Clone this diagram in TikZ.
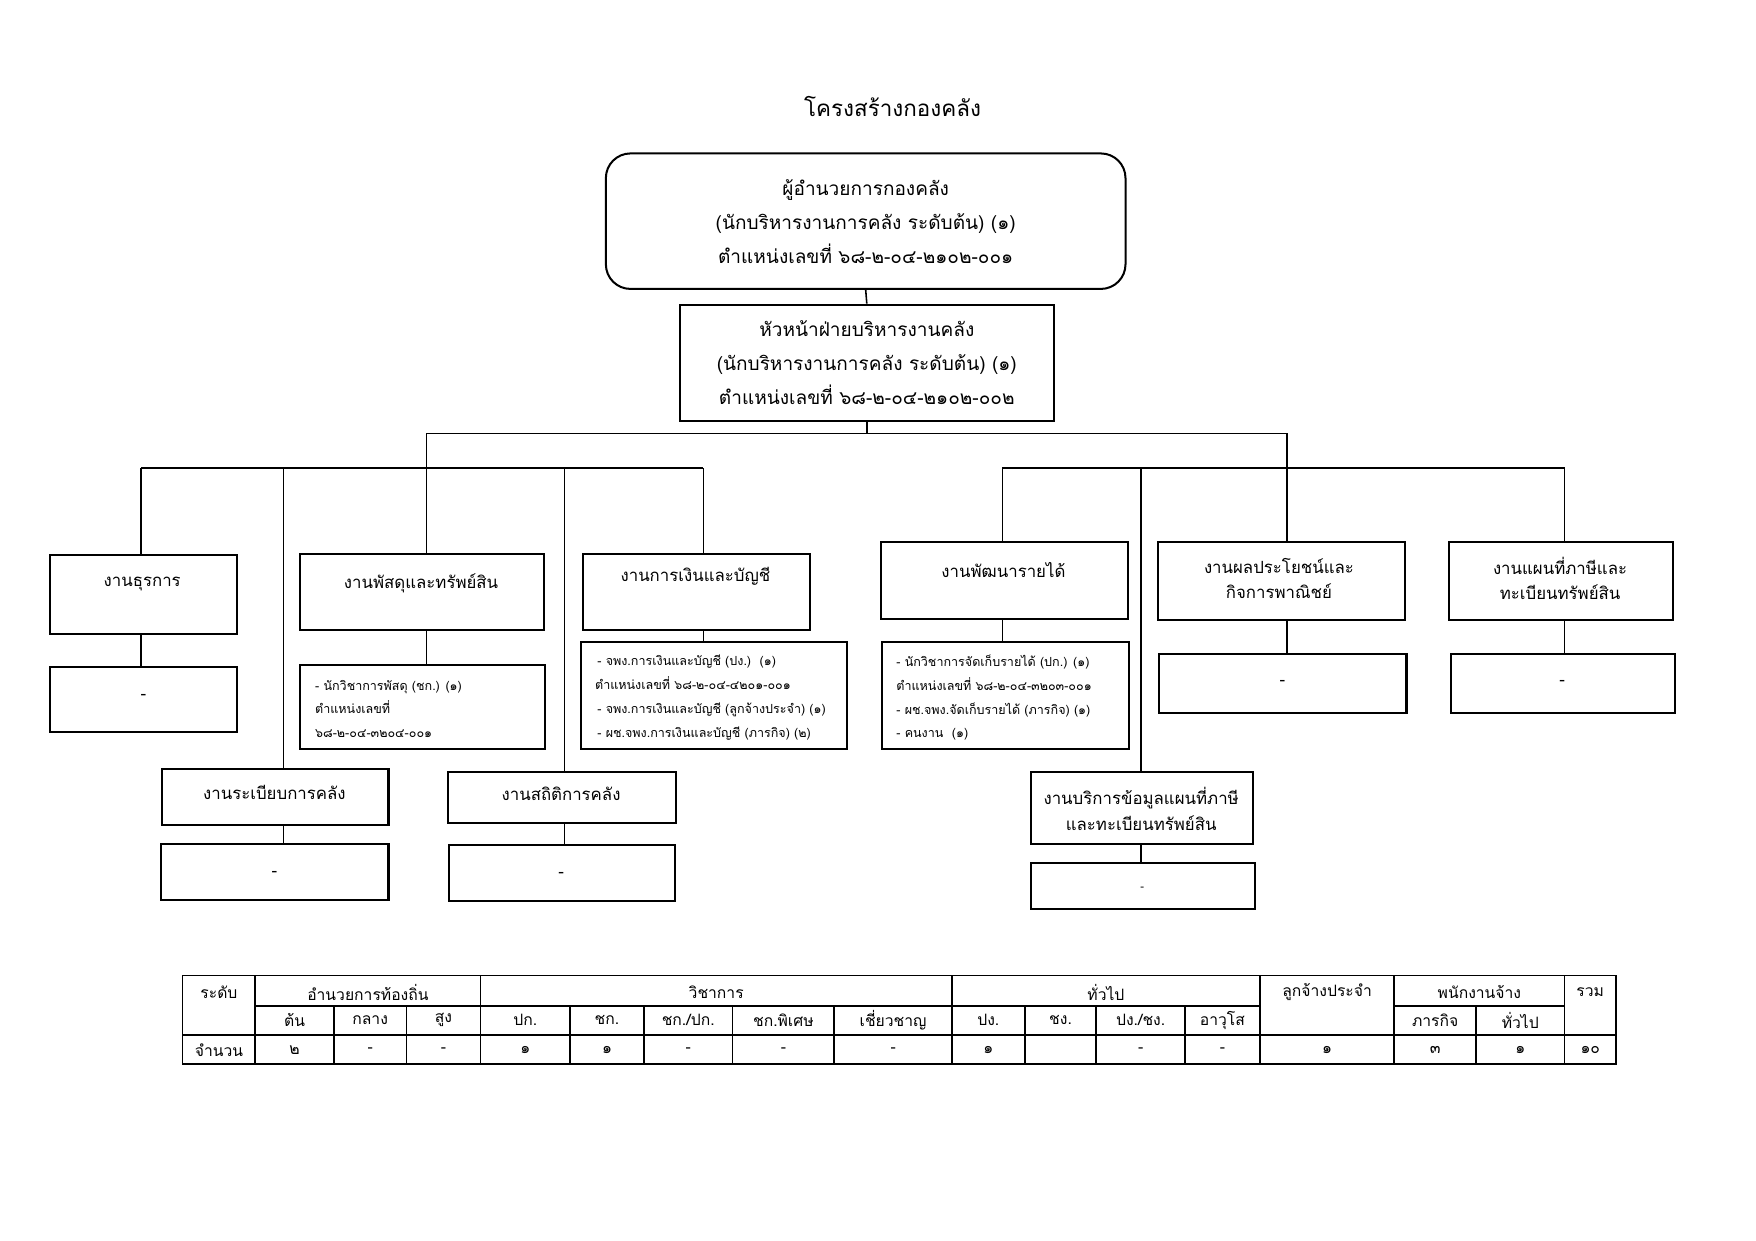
\documentclass[tikz,border=0pt]{standalone}
\usepackage{fontspec}
\setmainfont[Script=Thai]{Loma}
\usetikzlibrary{calc}
\newcommand\bx[6][]{\node[box,#1,anchor=north west,minimum width={(#5-#3)*0.5pt},minimum height={(#6-#4)*0.5pt}] (#2) at (#3,#4) {};}
\begin{document}
\begin{tikzpicture}[x=0.5pt,y=-0.5pt,
  box/.style={draw,line width=0.9pt,inner sep=0pt},
  conn/.style={line width=0.7pt},
  lbl/.style={inner sep=0pt,align=center,font=\fontsize{7.5}{11.5}\selectfont},
  big/.style={inner sep=0pt,align=center,font=\fontsize{8.5}{15.2}\selectfont},
  small/.style={inner sep=0pt,align=left,anchor=west,font=\fontsize{5.6}{10.6}\selectfont},
  tb/.style={inner sep=0pt,font=\fontsize{7}{9}\selectfont}]
\useasboundingbox (0,0) rectangle (1568,1108);
\fill[white] (0,0) rectangle (1568,1108);

\node[inner sep=0pt,font=\fontsize{10}{12}\selectfont] (title) at (797,95) {โครงสร้างกองคลัง};

% top boxes
\node[box,big,rounded corners=11pt,minimum width={(1005-541)*0.5pt},minimum height={(258-137)*0.5pt}] (b1) at (773,197.5)
  {ผู้อำนวยการกองคลัง\\(นักบริหารงานการคลัง ระดับต้น) (๑)\\ตำแหน่งเลขที่ ๖๘-๒-๐๔-๒๑๐๒-๐๐๑};
\node[box,big,minimum width={(941-607)*0.5pt},minimum height={(374-270)*0.5pt}] (b2) at (774,324)
  {หัวหน้าฝ่ายบริหารงานคลัง\\(นักบริหารงานการคลัง ระดับต้น) (๑)\\ตำแหน่งเลขที่ ๖๘-๒-๐๔-๒๑๐๒-๐๐๒};

% section boxes
\bx{btur}{44}{495}{211}{565}
\bx{btur-s}{44}{595}{211}{653}
\bx{bpas}{267}{494}{485}{562}
\bx{bpas-s}{267}{593}{486}{668}
\bx{bfin}{520}{494}{722}{562}
\bx{bfin-s}{518}{572}{755}{668}
\bx{breg}{144}{686}{346}{736}
\bx{breg-s}{143}{753}{346}{803}
\bx{bsta}{399}{688}{603}{734}
\bx{bsta-s}{400}{754}{602}{804}
\bx{brev}{786}{483}{1006}{552}
\bx{brev-s}{787}{572}{1007}{668}
\bx{binf}{920}{688}{1118}{753}
\bx{binf-s}{920}{770}{1120}{811}
\bx{bben}{1033}{483}{1254}{553}
\bx{bben-s}{1034}{583}{1255}{636}
\bx{bmap}{1293}{483}{1493}{553}
\bx{bmap-s}{1295}{583}{1495}{636}

% labels
\node[lbl] (t-tur) at (127,521) {งานธุรการ};
\node[lbl] (t-tur-s) at (128,622) {-};
\node[lbl] (t-pas) at (376,521) {งานพัสดุและทรัพย์สิน};
\node[lbl] (t-fin) at (621,515) {งานการเงินและบัญชี};
\node[lbl] (t-reg) at (245,708) {งานระเบียบการคลัง};
\node[lbl] (t-reg-s) at (245,780) {-};
\node[lbl] (t-sta) at (501,709) {งานสถิติการคลัง};
\node[lbl] (t-sta-s) at (501,781) {-};
\node[lbl] (t-rev) at (896,509) {งานพัฒนารายได้};
\node[lbl] (t-inf) at (1019,722.5) {งานบริการข้อมูลแผนที่ภาษี\\และทะเบียนทรัพย์สิน};
\node[lbl,font=\fontsize{5}{6}\selectfont] (t-inf-s) at (1020,794) {-};
\node[lbl] (t-ben) at (1142,516.5) {งานผลประโยชน์และ\\กิจการพาณิชย์};
\node[lbl] (t-ben-s) at (1145,610) {-};
\node[lbl] (t-map) at (1393,516.5) {งานแผนที่ภาษีและ\\ทะเบียนทรัพย์สิน};
\node[lbl] (t-map-s) at (1395,610) {-};

\node[small] (t-pas-s) at (281,633) {- นักวิชาการพัสดุ (ชก.) (๑)\\ตำแหน่งเลขที่\\๖๘-๒-๐๔-๓๒๐๔-๐๐๑};
\node[small] (t-fin-s) at (531,623) {\hspace{1pt}- จพง.การเงินและบัญชี (ปง.)\ \ (๑)\\ตำแหน่งเลขที่ ๖๘-๒-๐๔-๔๒๐๑-๐๐๑\\\hspace{1pt}- จพง.การเงินและบัญชี (ลูกจ้างประจำ) (๑)\\\hspace{1pt}- ผช.จพง.การเงินและบัญชี (ภารกิจ) (๒)};
\node[small] (t-rev-s) at (800,623) {- นักวิชาการจัดเก็บรายได้ (ปก.) (๑)\\ตำแหน่งเลขที่ ๖๘-๒-๐๔-๓๒๐๓-๐๐๑\\- ผช.จพง.จัดเก็บรายได้ (ภารกิจ) (๑)\\- คนงาน\ \ (๑)};

% connectors
\coordinate (busL) at (381,387);
\coordinate (busR) at (1149,387);
\coordinate (lb1) at (126,418);
\coordinate (lb2) at (253,418);
\coordinate (lb3) at (381,418);
\coordinate (lb4) at (504,418);
\coordinate (lb5) at (628,418);
\coordinate (rb1) at (895,418);
\coordinate (rb2) at (1019,418);
\coordinate (rb4) at (1397,418);

\draw[conn] (b1.south) -- (b2.north);
\draw[conn] (b2.south) -- (b2.south |- busL);
\draw[conn] (busL) -- (busR);
\draw[conn] (busL) -- (busL |- bpas.north);
\draw[conn] (busR) -- (busR |- bben.north);
\draw[conn] (lb1) -- (lb5);
\draw[conn] (rb1) -- (rb4);
\draw[conn] (lb1) -- (lb1 |- btur.north);
\draw[conn] (lb2) -- (lb2 |- breg.north);
\draw[conn] (lb4) -- (lb4 |- bsta.north);
\draw[conn] (lb5) -- (lb5 |- bfin.north);
\draw[conn] (rb1) -- (rb1 |- brev.north);
\draw[conn] (rb2) -- (rb2 |- binf.north);
\draw[conn] (rb4) -- (rb4 |- bmap.north);

\draw[conn] (lb1 |- btur.south) -- (lb1 |- btur-s.north);
\draw[conn] (lb3 |- bpas.south) -- (lb3 |- bpas-s.north);
\draw[conn] (lb5 |- bfin.south) -- (lb5 |- bfin-s.north);
\draw[conn] (lb2 |- breg.south) -- (lb2 |- breg-s.north);
\draw[conn] (lb4 |- bsta.south) -- (lb4 |- bsta-s.north);
\draw[conn] (rb1 |- brev.south) -- (rb1 |- brev-s.north);
\draw[conn] (rb2 |- binf.south) -- (rb2 |- binf-s.north);
\draw[conn] (busR |- bben.south) -- (busR |- bben-s.north);
\draw[conn] (rb4 |- bmap.south) -- (rb4 |- bmap-s.north);

% table
\begin{scope}[line width=0.8pt]
\draw (163,871) rectangle (1443,950);
\draw (228,898) -- (1125,898);
\draw (1245,898) -- (1397,898);
\draw (163,924) -- (1443,924);
\foreach \x in {228,429,850,1125,1245,1397} \draw (\x,871) -- (\x,950);
\foreach \x in {298,363,509,575,654,745,915,979,1058,1318} \draw (\x,898) -- (\x,950);
\end{scope}
\node[tb] (h-lev) at (195.5,886) {ระดับ};
\node[tb] (h-adm) at (328.5,886) {อำนวยการท้องถิ่น};
\node[tb] (h-aca) at (639.5,886) {วิชาการ};
\node[tb] (h-gen) at (987.5,886) {ทั่วไป};
\node[tb] (h-emp) at (1185,886) {ลูกจ้างประจำ};
\node[tb] (h-sta) at (1321,886) {พนักงานจ้าง};
\node[tb] (h-sum) at (1420,886) {รวม};
\foreach \x/\t [count=\i] in {263/ต้น,330.5/กลาง,396/สูง,469/ปก.,542/ชก.,614.5/{ชก./ปก.},699.5/ชก.พิเศษ,797.5/เชี่ยวชาญ,882.5/ปง.,947/ชง.,1018.5/{ปง./ชง.},1091.5/อาวุโส,1281.5/ภารกิจ,1357.5/ทั่วไป}
  \node[tb] (s-\i) at (\x,911) {\t};
\foreach \x/\t [count=\i] in {195.5/จำนวน,263/๒,330.5/-,396/-,469/๑,542/๑,614.5/-,699.5/-,797.5/-,882.5/๑,1018.5/-,1091.5/-,1185/๑,1281.5/๓,1357.5/๑,1420/๑๐}
  \node[tb] (v-\i) at (\x,938) {\t};
\end{tikzpicture}
\end{document}
